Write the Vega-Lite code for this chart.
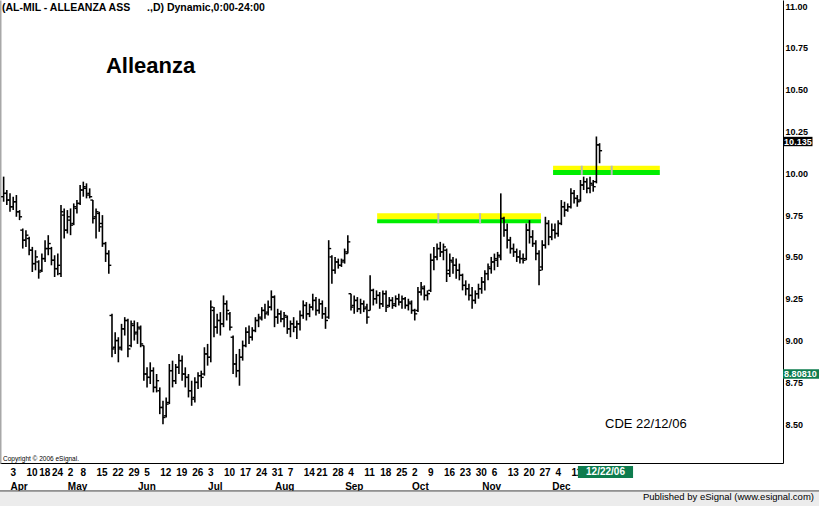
{
"$schema": "https://vega.github.io/schema/vega-lite/v6.json",
"width": 783, "height": 463,
"autosize": "none",
"padding": {"left": 0, "top": 0, "right": 36, "bottom": 43},
"background": "white",
"config": {"view": {"stroke": null}, "font": "Liberation Sans", "axis": {"grid": false}},
"data": {"values": [{}]},
"datasets": {
"bars": [
{"i":-2,"o":9.86,"h":9.98,"l":9.83,"c":9.88},{"i":-1,"o":9.88,"h":9.90,"l":9.81,"c":9.84},{"i":0,"o":9.84,"h":9.88,"l":9.77,"c":9.80},{"i":1,"o":9.80,"h":9.86,"l":9.78,"c":9.83},{"i":2,"o":9.83,"h":9.87,"l":9.74,"c":9.77},{"i":3,"o":9.77,"h":9.78,"l":9.72,"c":9.74},{"i":4,"o":9.66,"h":9.67,"l":9.55,"c":9.60},{"i":5,"o":9.60,"h":9.66,"l":9.56,"c":9.63},{"i":6,"o":9.61,"h":9.62,"l":9.51,"c":9.54},{"i":7,"o":9.54,"h":9.56,"l":9.41,"c":9.46},
{"i":8,"o":9.46,"h":9.54,"l":9.42,"c":9.50},{"i":9,"o":9.47,"h":9.48,"l":9.37,"c":9.41},{"i":10,"o":9.42,"h":9.52,"l":9.41,"c":9.49},{"i":11,"o":9.49,"h":9.60,"l":9.47,"c":9.55},{"i":12,"o":9.55,"h":9.63,"l":9.51,"c":9.58},{"i":13,"o":9.55,"h":9.56,"l":9.45,"c":9.48},{"i":14,"o":9.48,"h":9.51,"l":9.38,"c":9.43},{"i":15,"o":9.43,"h":9.52,"l":9.39,"c":9.45},{"i":16,"o":9.40,"h":9.81,"l":9.38,"c":9.77},{"i":17,"o":9.75,"h":9.79,"l":9.61,"c":9.66},
{"i":18,"o":9.66,"h":9.78,"l":9.64,"c":9.74},{"i":19,"o":9.72,"h":9.79,"l":9.63,"c":9.69},{"i":20,"o":9.70,"h":9.82,"l":9.69,"c":9.80},{"i":21,"o":9.79,"h":9.84,"l":9.76,"c":9.82},{"i":22,"o":9.82,"h":9.93,"l":9.81,"c":9.90},{"i":23,"o":9.90,"h":9.95,"l":9.86,"c":9.92},{"i":24,"o":9.91,"h":9.94,"l":9.85,"c":9.87},{"i":25,"o":9.88,"h":9.91,"l":9.85,"c":9.86},{"i":26,"o":9.84,"h":9.84,"l":9.70,"c":9.73},{"i":27,"o":9.74,"h":9.79,"l":9.61,"c":9.77},
{"i":28,"o":9.76,"h":9.77,"l":9.65,"c":9.68},{"i":29,"o":9.70,"h":9.75,"l":9.56,"c":9.58},{"i":30,"o":9.58,"h":9.59,"l":9.47,"c":9.52},{"i":31,"o":9.52,"h":9.54,"l":9.40,"c":9.45},{"i":32,"o":9.15,"h":9.16,"l":8.90,"c":8.95},{"i":33,"o":8.96,"h":9.05,"l":8.92,"c":9.00},{"i":34,"o":9.00,"h":9.02,"l":8.87,"c":8.95},{"i":35,"o":8.96,"h":9.10,"l":8.94,"c":9.07},{"i":36,"o":9.07,"h":9.14,"l":9.03,"c":9.12},{"i":37,"o":9.12,"h":9.13,"l":8.90,"c":8.95},
{"i":38,"o":8.97,"h":9.12,"l":8.96,"c":9.10},{"i":39,"o":9.09,"h":9.12,"l":9.00,"c":9.04},{"i":40,"o":9.05,"h":9.11,"l":8.98,"c":9.08},{"i":41,"o":9.07,"h":9.09,"l":8.96,"c":8.98},{"i":42,"o":8.97,"h":8.97,"l":8.76,"c":8.80},{"i":43,"o":8.80,"h":8.84,"l":8.72,"c":8.78},{"i":44,"o":8.78,"h":8.87,"l":8.74,"c":8.82},{"i":45,"o":8.82,"h":8.84,"l":8.69,"c":8.72},{"i":46,"o":8.72,"h":8.80,"l":8.69,"c":8.76},{"i":47,"o":8.70,"h":8.72,"l":8.56,"c":8.60},
{"i":48,"o":8.60,"h":8.64,"l":8.50,"c":8.54},{"i":49,"o":8.55,"h":8.66,"l":8.54,"c":8.62},{"i":50,"o":8.63,"h":8.86,"l":8.62,"c":8.82},{"i":51,"o":8.82,"h":8.88,"l":8.72,"c":8.76},{"i":52,"o":8.76,"h":8.86,"l":8.74,"c":8.84},{"i":53,"o":8.84,"h":8.92,"l":8.80,"c":8.88},{"i":54,"o":8.88,"h":8.91,"l":8.76,"c":8.80},{"i":55,"o":8.80,"h":8.84,"l":8.72,"c":8.78},{"i":56,"o":8.78,"h":8.80,"l":8.66,"c":8.70},{"i":57,"o":8.70,"h":8.76,"l":8.61,"c":8.65},
{"i":58,"o":8.66,"h":8.78,"l":8.63,"c":8.75},{"i":59,"o":8.75,"h":8.81,"l":8.71,"c":8.79},{"i":60,"o":8.79,"h":8.82,"l":8.72,"c":8.78},{"i":61,"o":8.80,"h":8.96,"l":8.79,"c":8.92},{"i":62,"o":8.92,"h":8.98,"l":8.85,"c":8.90},{"i":63,"o":8.90,"h":9.24,"l":8.87,"c":9.20},{"i":64,"o":9.18,"h":9.20,"l":9.02,"c":9.08},{"i":65,"o":9.08,"h":9.16,"l":9.04,"c":9.12},{"i":66,"o":9.12,"h":9.17,"l":9.03,"c":9.10},{"i":67,"o":9.10,"h":9.27,"l":9.08,"c":9.22},
{"i":68,"o":9.22,"h":9.24,"l":9.12,"c":9.18},{"i":69,"o":9.16,"h":9.17,"l":9.06,"c":9.08},{"i":70,"o":9.02,"h":9.03,"l":8.80,"c":8.86},{"i":71,"o":8.86,"h":8.92,"l":8.78,"c":8.82},{"i":72,"o":8.82,"h":8.95,"l":8.73,"c":8.90},{"i":73,"o":8.90,"h":9.00,"l":8.88,"c":8.97},{"i":74,"o":8.97,"h":9.08,"l":8.96,"c":9.05},{"i":75,"o":9.05,"h":9.09,"l":8.98,"c":9.02},{"i":76,"o":9.02,"h":9.08,"l":9.00,"c":9.06},{"i":77,"o":9.06,"h":9.14,"l":9.05,"c":9.12},
{"i":78,"o":9.12,"h":9.16,"l":9.08,"c":9.14},{"i":79,"o":9.13,"h":9.20,"l":9.12,"c":9.18},{"i":80,"o":9.18,"h":9.22,"l":9.13,"c":9.16},{"i":81,"o":9.17,"h":9.24,"l":9.15,"c":9.20},{"i":82,"o":9.20,"h":9.30,"l":9.18,"c":9.26},{"i":83,"o":9.26,"h":9.27,"l":9.08,"c":9.14},{"i":84,"o":9.14,"h":9.19,"l":9.10,"c":9.16},{"i":85,"o":9.16,"h":9.18,"l":9.11,"c":9.13},{"i":86,"o":9.13,"h":9.17,"l":9.08,"c":9.15},{"i":87,"o":9.14,"h":9.15,"l":9.04,"c":9.07},
{"i":88,"o":9.07,"h":9.12,"l":9.02,"c":9.10},{"i":89,"o":9.10,"h":9.14,"l":9.05,"c":9.08},{"i":90,"o":9.08,"h":9.12,"l":9.01,"c":9.10},{"i":91,"o":9.10,"h":9.18,"l":9.06,"c":9.15},{"i":92,"o":9.15,"h":9.24,"l":9.13,"c":9.21},{"i":93,"o":9.21,"h":9.23,"l":9.12,"c":9.16},{"i":94,"o":9.16,"h":9.22,"l":9.14,"c":9.20},{"i":95,"o":9.20,"h":9.28,"l":9.18,"c":9.24},{"i":96,"o":9.24,"h":9.26,"l":9.15,"c":9.18},{"i":97,"o":9.18,"h":9.25,"l":9.16,"c":9.22},
{"i":98,"o":9.22,"h":9.24,"l":9.13,"c":9.16},{"i":99,"o":9.16,"h":9.20,"l":9.07,"c":9.12},{"i":100,"o":9.14,"h":9.60,"l":9.13,"c":9.55},{"i":101,"o":9.50,"h":9.51,"l":9.34,"c":9.42},{"i":102,"o":9.42,"h":9.50,"l":9.40,"c":9.47},{"i":103,"o":9.47,"h":9.49,"l":9.43,"c":9.45},{"i":104,"o":9.45,"h":9.49,"l":9.44,"c":9.47},{"i":105,"o":9.48,"h":9.55,"l":9.46,"c":9.53},{"i":106,"o":9.52,"h":9.63,"l":9.52,"c":9.59},{"i":107,"o":9.28,"h":9.28,"l":9.18,"c":9.20},
{"i":108,"o":9.21,"h":9.27,"l":9.16,"c":9.24},{"i":109,"o":9.24,"h":9.26,"l":9.17,"c":9.19},{"i":110,"o":9.19,"h":9.25,"l":9.16,"c":9.22},{"i":111,"o":9.22,"h":9.24,"l":9.17,"c":9.19},{"i":112,"o":9.20,"h":9.22,"l":9.10,"c":9.14},{"i":113,"o":9.18,"h":9.39,"l":9.18,"c":9.30},{"i":114,"o":9.30,"h":9.31,"l":9.21,"c":9.25},{"i":115,"o":9.25,"h":9.30,"l":9.22,"c":9.27},{"i":116,"o":9.27,"h":9.29,"l":9.19,"c":9.22},{"i":117,"o":9.22,"h":9.30,"l":9.20,"c":9.28},
{"i":118,"o":9.28,"h":9.30,"l":9.17,"c":9.20},{"i":119,"o":9.21,"h":9.26,"l":9.20,"c":9.24},{"i":120,"o":9.24,"h":9.26,"l":9.19,"c":9.21},{"i":121,"o":9.22,"h":9.27,"l":9.20,"c":9.25},{"i":122,"o":9.25,"h":9.28,"l":9.21,"c":9.23},{"i":123,"o":9.23,"h":9.27,"l":9.19,"c":9.25},{"i":124,"o":9.25,"h":9.26,"l":9.19,"c":9.21},{"i":125,"o":9.21,"h":9.25,"l":9.18,"c":9.23},{"i":126,"o":9.22,"h":9.24,"l":9.16,"c":9.18},{"i":127,"o":9.18,"h":9.19,"l":9.12,"c":9.16},
{"i":128,"o":9.18,"h":9.32,"l":9.17,"c":9.29},{"i":129,"o":9.29,"h":9.35,"l":9.27,"c":9.32},{"i":130,"o":9.31,"h":9.33,"l":9.24,"c":9.27},{"i":131,"o":9.27,"h":9.30,"l":9.24,"c":9.28},{"i":132,"o":9.30,"h":9.52,"l":9.29,"c":9.48},{"i":133,"o":9.48,"h":9.56,"l":9.42,"c":9.50},{"i":134,"o":9.50,"h":9.58,"l":9.48,"c":9.55},{"i":135,"o":9.55,"h":9.59,"l":9.50,"c":9.53},{"i":136,"o":9.53,"h":9.58,"l":9.48,"c":9.56},{"i":137,"o":9.54,"h":9.55,"l":9.35,"c":9.40},
{"i":138,"o":9.42,"h":9.52,"l":9.38,"c":9.48},{"i":139,"o":9.47,"h":9.50,"l":9.40,"c":9.45},{"i":140,"o":9.45,"h":9.49,"l":9.37,"c":9.42},{"i":141,"o":9.42,"h":9.46,"l":9.36,"c":9.39},{"i":142,"o":9.39,"h":9.40,"l":9.30,"c":9.33},{"i":143,"o":9.33,"h":9.36,"l":9.27,"c":9.31},{"i":144,"o":9.31,"h":9.34,"l":9.24,"c":9.27},{"i":145,"o":9.27,"h":9.32,"l":9.19,"c":9.24},{"i":146,"o":9.24,"h":9.30,"l":9.22,"c":9.28},{"i":147,"o":9.28,"h":9.34,"l":9.25,"c":9.31},
{"i":148,"o":9.31,"h":9.38,"l":9.28,"c":9.35},{"i":149,"o":9.35,"h":9.42,"l":9.30,"c":9.40},{"i":150,"o":9.40,"h":9.46,"l":9.36,"c":9.44},{"i":151,"o":9.43,"h":9.50,"l":9.40,"c":9.47},{"i":152,"o":9.47,"h":9.52,"l":9.42,"c":9.49},{"i":153,"o":9.48,"h":9.53,"l":9.44,"c":9.51},{"i":154,"o":9.50,"h":9.88,"l":9.48,"c":9.73},{"i":155,"o":9.73,"h":9.74,"l":9.62,"c":9.66},{"i":156,"o":9.66,"h":9.70,"l":9.55,"c":9.60},{"i":157,"o":9.60,"h":9.62,"l":9.52,"c":9.55},
{"i":158,"o":9.55,"h":9.58,"l":9.50,"c":9.53},{"i":159,"o":9.53,"h":9.55,"l":9.47,"c":9.50},{"i":160,"o":9.50,"h":9.54,"l":9.46,"c":9.49},{"i":161,"o":9.49,"h":9.52,"l":9.46,"c":9.48},{"i":162,"o":9.49,"h":9.70,"l":9.48,"c":9.66},{"i":163,"o":9.66,"h":9.72,"l":9.58,"c":9.62},{"i":164,"o":9.62,"h":9.66,"l":9.56,"c":9.58},{"i":165,"o":9.58,"h":9.60,"l":9.48,"c":9.52},{"i":166,"o":9.52,"h":9.54,"l":9.33,"c":9.42},{"i":167,"o":9.44,"h":9.60,"l":9.42,"c":9.57},
{"i":168,"o":9.57,"h":9.74,"l":9.55,"c":9.70},{"i":169,"o":9.70,"h":9.72,"l":9.57,"c":9.62},{"i":170,"o":9.62,"h":9.70,"l":9.60,"c":9.66},{"i":171,"o":9.66,"h":9.70,"l":9.61,"c":9.64},{"i":172,"o":9.64,"h":9.72,"l":9.62,"c":9.70},{"i":173,"o":9.70,"h":9.84,"l":9.69,"c":9.80},{"i":174,"o":9.80,"h":9.83,"l":9.74,"c":9.78},{"i":175,"o":9.78,"h":9.82,"l":9.77,"c":9.80},{"i":176,"o":9.80,"h":9.91,"l":9.79,"c":9.88},{"i":177,"o":9.88,"h":9.90,"l":9.82,"c":9.85},
{"i":178,"o":9.85,"h":9.87,"l":9.80,"c":9.83},{"i":179,"o":9.84,"h":9.96,"l":9.83,"c":9.93},{"i":180,"o":9.93,"h":9.98,"l":9.90,"c":9.95},{"i":181,"o":9.95,"h":9.97,"l":9.88,"c":9.91},{"i":182,"o":9.91,"h":9.98,"l":9.88,"c":9.94},{"i":183,"o":9.93,"h":9.96,"l":9.89,"c":9.92},{"i":184,"o":9.95,"h":10.22,"l":9.94,"c":10.17},{"i":185,"o":10.17,"h":10.18,"l":10.06,"c":10.135}
],
"bands": [
{"a":115.2,"b":166.6,"top":9.761,"mid":9.725,"bot":9.701},
{"a":170.4,"b":203.9,"top":10.045,"mid":10.020,"bot":9.990}
],
"handles": [
{"i":134.4,"top":9.761,"bot":9.701},{"i":147.5,"top":9.761,"bot":9.701},
{"i":179.4,"top":10.045,"bot":9.990},{"i":188.8,"top":10.045,"bot":9.990}
]
},
"layer": [
{
"data": {"name": "bands"},
"mark": {"type": "rect", "color": "#ffff00"},
"encoding": {
"x": {"field": "a", "type": "quantitative", "scale": {"domain": [-3.14, 242.55], "nice": false, "zero": false},
"axis": {"orient": "bottom", "offset": 14, "values": [0,18,40,62,83,105,126,148,170], "labelExpr": "['Apr','May','Jun','Jul','Aug','Sep','Oct','Nov','Dec'][indexof([0,18,40,62,83,105,126,148,170], datum.value)]", "ticks": false, "tickSize": 0, "domain": false, "labelAlign": "left", "labelBaseline": "top", "labelPadding": 4.3, "labelFont": "Liberation Sans", "labelFontWeight": "bold", "labelFontSize": 10, "labelColor": "#000", "labelOverlap": false, "labelFlush": false, "labelBound": false, "title": null}},
"x2": {"field": "b"},
"y": {"field": "top", "type": "quantitative", "scale": {"domain": [8.268, 11.036], "nice": false, "zero": false},
"axis": {"orient": "left", "labels": false, "ticks": false, "domainColor": "#a8a8a8", "domainWidth": 2, "title": null}},
"y2": {"field": "mid"}
}
},
{
"data": {"name": "bands"},
"mark": {"type": "rect", "color": "#00ee00"},
"encoding": {
"x": {"field": "a", "type": "quantitative", "scale": {"domain": [-3.14, 242.55], "nice": false, "zero": false}, "axis": null},
"x2": {"field": "b"},
"y": {"field": "mid", "type": "quantitative", "scale": {"domain": [8.268, 11.036], "nice": false, "zero": false}, "axis": null},
"y2": {"field": "bot"}
}
},
{
"data": {"name": "handles"},
"mark": {"type": "rule", "color": "#b8b8b8", "strokeWidth": 2},
"encoding": {
"x": {"field": "i", "type": "quantitative", "scale": {"domain": [-3.14, 242.55], "nice": false, "zero": false}, "axis": null},
"y": {"field": "top", "type": "quantitative", "scale": {"domain": [8.268, 11.036], "nice": false, "zero": false}, "axis": null},
"y2": {"field": "bot"}
}
},
{
"data": {"name": "bars"},
"mark": {"type": "rule", "color": "#000", "strokeWidth": 1.6},
"encoding": {
"x": {"field": "i", "type": "quantitative", "scale": {"domain": [-3.14, 242.55], "nice": false, "zero": false},
"axis": {"orient": "bottom", "values": [0,5,9,13,18,22,27,32,37,42,47,52,57,62,67,72,77,82,87,92,96,101,106,111,116,121,126,131,136,141,146,151,156,161,166,171,176], "labelExpr": "['3','10','18','24','2','8','15','22','29','5','12','19','26','3','10','17','24','31','7','14','21','28','4','11','18','25','2','9','16','23','30','6','13','20','27','4','11'][indexof([0,5,9,13,18,22,27,32,37,42,47,52,57,62,67,72,77,82,87,92,96,101,106,111,116,121,126,131,136,141,146,151,156,161,166,171,176], datum.value)]", "ticks": false, "tickSize": 0, "domain": true, "domainColor": "#000", "domainWidth": 1, "labelAlign": "left", "labelBaseline": "top", "labelPadding": 4.3, "labelFont": "Liberation Sans", "labelFontWeight": "bold", "labelFontSize": 10, "labelColor": "#000", "labelOverlap": false, "labelFlush": false, "labelBound": false, "title": null}},
"y": {"field": "l", "type": "quantitative", "scale": {"domain": [8.268, 11.036], "nice": false, "zero": false},
"axis": {"orient": "right", "values": [8.5,8.75,9,9.25,9.5,9.75,10,10.25,10.5,10.75,11], "format": ".2f", "ticks": false, "tickSize": 0, "domain": true, "domainColor": "#000", "domainWidth": 1, "labelAlign": "left", "labelBaseline": "middle", "labelPadding": 2, "labelFont": "Liberation Sans", "labelFontWeight": "bold", "labelFontSize": 9, "labelColor": "#000", "labelOverlap": false, "labelFlush": false, "labelBound": false, "title": null}},
"y2": {"field": "h"}
}
},
{
"data": {"name": "bars"},
"mark": {"type": "rule", "color": "#000", "strokeWidth": 1.4, "xOffset": -2.5, "x2Offset": 0},
"encoding": {
"x": {"field": "i", "type": "quantitative", "scale": {"domain": [-3.14, 242.55], "nice": false, "zero": false}, "axis": null},
"x2": {"field": "i"},
"y": {"field": "o", "type": "quantitative", "scale": {"domain": [8.268, 11.036], "nice": false, "zero": false}, "axis": null}
}
},
{
"data": {"name": "bars"},
"mark": {"type": "rule", "color": "#000", "strokeWidth": 1.4, "xOffset": 0, "x2Offset": 2.5},
"encoding": {
"x": {"field": "i", "type": "quantitative", "scale": {"domain": [-3.14, 242.55], "nice": false, "zero": false}, "axis": null},
"x2": {"field": "i"},
"y": {"field": "c", "type": "quantitative", "scale": {"domain": [8.268, 11.036], "nice": false, "zero": false}, "axis": null}
}
},
{
"mark": {"type": "text", "text": "(AL-MIL - ALLEANZA ASS", "align": "left", "baseline": "middle", "font": "Liberation Sans", "fontWeight": "bold", "fontSize": 10.5, "color": "#000"},
"encoding": {
"x": {"datum": -2.5, "type": "quantitative", "scale": {"domain": [-3.14, 242.55], "nice": false, "zero": false}, "axis": null},
"y": {"datum": 10.991, "type": "quantitative", "scale": {"domain": [8.268, 11.036], "nice": false, "zero": false}, "axis": null}
}
},
{
"mark": {"type": "text", "text": ".,D) Dynamic,0:00-24:00", "align": "left", "baseline": "middle", "font": "Liberation Sans", "fontWeight": "bold", "fontSize": 10.5, "color": "#000"},
"encoding": {
"x": {"datum": 43.0, "type": "quantitative", "scale": {"domain": [-3.14, 242.55], "nice": false, "zero": false}, "axis": null},
"y": {"datum": 10.991, "type": "quantitative", "scale": {"domain": [8.268, 11.036], "nice": false, "zero": false}, "axis": null}
}
},
{
"mark": {"type": "text", "text": "Alleanza", "align": "left", "baseline": "alphabetic", "font": "Liberation Sans", "fontWeight": "bold", "fontSize": 22, "color": "#000"},
"encoding": {
"x": {"datum": 30.1, "type": "quantitative", "scale": {"domain": [-3.14, 242.55], "nice": false, "zero": false}, "axis": null},
"y": {"datum": 10.5995, "type": "quantitative", "scale": {"domain": [8.268, 11.036], "nice": false, "zero": false}, "axis": null}
}
},
{
"mark": {"type": "text", "text": "CDE  22/12/06", "align": "left", "baseline": "alphabetic", "font": "Liberation Sans", "fontSize": 13, "color": "#000"},
"encoding": {
"x": {"datum": 186.7, "type": "quantitative", "scale": {"domain": [-3.14, 242.55], "nice": false, "zero": false}, "axis": null},
"y": {"datum": 8.4776, "type": "quantitative", "scale": {"domain": [8.268, 11.036], "nice": false, "zero": false}, "axis": null}
}
},
{
"mark": {"type": "text", "text": "Copyright © 2006 eSignal.", "align": "left", "baseline": "alphabetic", "font": "Liberation Sans", "fontSize": 6.5, "color": "#000"},
"encoding": {
"x": {"datum": -2.2, "type": "quantitative", "scale": {"domain": [-3.14, 242.55], "nice": false, "zero": false}, "axis": null},
"y": {"datum": 8.28, "type": "quantitative", "scale": {"domain": [8.268, 11.036], "nice": false, "zero": false}, "axis": null}
}
},
{
"mark": {"type": "rect", "color": "#000"},
"encoding": {
"x": {"datum": 242.55, "type": "quantitative", "scale": {"domain": [-3.14, 242.55], "nice": false, "zero": false}, "axis": null},
"x2": {"datum": 251.8},
"y": {"datum": 10.218, "type": "quantitative", "scale": {"domain": [8.268, 11.036], "nice": false, "zero": false}, "axis": null},
"y2": {"datum": 10.162}
}
},
{
"mark": {"type": "text", "text": "10.135", "align": "left", "baseline": "middle", "font": "Liberation Sans", "fontWeight": "bold", "fontSize": 9, "color": "#fff"},
"encoding": {
"x": {"datum": 242.9, "type": "quantitative", "scale": {"domain": [-3.14, 242.55], "nice": false, "zero": false}, "axis": null},
"y": {"datum": 10.19, "type": "quantitative", "scale": {"domain": [8.268, 11.036], "nice": false, "zero": false}, "axis": null}
}
},
{
"mark": {"type": "rect", "color": "#0e7c4e"},
"encoding": {
"x": {"datum": 242.55, "type": "quantitative", "scale": {"domain": [-3.14, 242.55], "nice": false, "zero": false}, "axis": null},
"x2": {"datum": 262},
"y": {"datum": 8.828, "type": "quantitative", "scale": {"domain": [8.268, 11.036], "nice": false, "zero": false}, "axis": null},
"y2": {"datum": 8.771}
}
},
{
"mark": {"type": "text", "text": "8.80810", "align": "left", "baseline": "middle", "font": "Liberation Sans", "fontWeight": "bold", "fontSize": 9, "color": "#fff"},
"encoding": {
"x": {"datum": 242.9, "type": "quantitative", "scale": {"domain": [-3.14, 242.55], "nice": false, "zero": false}, "axis": null},
"y": {"datum": 8.7995, "type": "quantitative", "scale": {"domain": [8.268, 11.036], "nice": false, "zero": false}, "axis": null}
}
},
{
"mark": {"type": "rect", "color": "#0e7c4e"},
"encoding": {
"x": {"datum": 178.2, "type": "quantitative", "scale": {"domain": [-3.14, 242.55], "nice": false, "zero": false}, "axis": null},
"x2": {"datum": 195.5},
"y": {"datum": 8.2504, "type": "quantitative", "scale": {"domain": [8.268, 11.036], "nice": false, "zero": false}, "axis": null},
"y2": {"datum": 8.1787}
}
},
{
"mark": {"type": "text", "text": "12/22/06", "align": "center", "baseline": "middle", "font": "Liberation Sans", "fontWeight": "bold", "fontSize": 10, "color": "#fff"},
"encoding": {
"x": {"datum": 186.85, "type": "quantitative", "scale": {"domain": [-3.14, 242.55], "nice": false, "zero": false}, "axis": null},
"y": {"datum": 8.2146, "type": "quantitative", "scale": {"domain": [8.268, 11.036], "nice": false, "zero": false}, "axis": null}
}
},
{
"mark": {"type": "rect", "color": "#ececec"},
"encoding": {
"x": {"datum": -3.5, "type": "quantitative", "scale": {"domain": [-3.14, 242.55], "nice": false, "zero": false}, "axis": null},
"x2": {"datum": 262},
"y": {"datum": 8.101, "type": "quantitative", "scale": {"domain": [8.268, 11.036], "nice": false, "zero": false}, "axis": null},
"y2": {"datum": 7.9}
}
},
{
"mark": {"type": "rule", "color": "#404040", "strokeWidth": 1},
"encoding": {
"x": {"datum": -3.5, "type": "quantitative", "scale": {"domain": [-3.14, 242.55], "nice": false, "zero": false}, "axis": null},
"x2": {"datum": 262},
"y": {"datum": 8.101, "type": "quantitative", "scale": {"domain": [8.268, 11.036], "nice": false, "zero": false}, "axis": null}
}
},
{
"mark": {"type": "text", "text": "Published by eSignal (www.esignal.com)", "align": "right", "baseline": "alphabetic", "font": "Liberation Sans", "fontSize": 9.5, "color": "#000"},
"encoding": {
"x": {"datum": 252.27, "type": "quantitative", "scale": {"domain": [-3.14, 242.55], "nice": false, "zero": false}, "axis": null},
"y": {"datum": 8.047, "type": "quantitative", "scale": {"domain": [8.268, 11.036], "nice": false, "zero": false}, "axis": null}
}
}
],
"resolve": {"axis": {"x": "independent", "y": "independent"}}
}
